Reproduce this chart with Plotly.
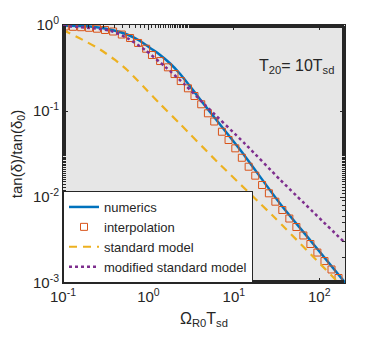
import plotly.graph_objects as go

# numerics (blue solid)
omega_num = [0.1, 0.207, 0.356, 0.563, 0.8, 1.047, 1.371, 1.796, 2.353, 3.083, 4.037, 6.06, 11.9,
             35.0, 78.7, 202]
tan_num = [0.987, 0.961, 0.886, 0.775, 0.652, 0.540, 0.448, 0.3567, 0.2693, 0.1927, 0.136, 0.0818,
           0.0352, 0.0083, 0.00312, 0.001]

# interpolation (squares)
omega_int = [0.105, 0.131, 0.163, 0.202, 0.25, 0.31, 0.386, 0.488, 0.61, 0.757, 0.94, 1.1, 1.37,
             1.69, 2.02, 2.39, 2.9, 3.46, 4.15, 4.97, 5.89, 7.25, 8.67, 10.4, 12.4, 14.9, 17.8,
             21.4, 25.7, 30.6, 36.9, 44.6, 53.9, 65.1, 78.7, 95, 115, 139, 168]
tan_int = [0.961, 0.953, 0.943, 0.928, 0.906, 0.875, 0.840, 0.775, 0.706, 0.618, 0.530, 0.448, 0.381,
           0.322, 0.269, 0.223, 0.1836, 0.1494, 0.1197, 0.094, 0.0755, 0.0574, 0.046, 0.0368, 0.0286,
           0.0225, 0.0177, 0.01379, 0.01104, 0.00882, 0.00706, 0.00562, 0.00448, 0.00357, 0.00284,
           0.00226, 0.0018, 0.001436, 0.001143]

# standard model (dashed)
omega_std = [0.1, 0.1715, 0.272, 0.407, 0.563, 0.737, 0.966, 1.371, 2.35, 6.38, 30.6, 163, 200]
tan_std = [0.875, 0.669, 0.519, 0.392, 0.2997, 0.2293, 0.1731, 0.1206, 0.0706, 0.0257, 0.00565,
           0.00104, 0.00084]

# modified standard model (dotted)
omega_mod = [0.1, 0.207, 0.356, 0.563, 0.915, 1.57, 2.69, 4.62, 13.6, 35.0, 202]
tan_mod = [0.974, 0.923, 0.858, 0.706, 0.512, 0.327, 0.201, 0.117, 0.0413, 0.0158, 0.0029]

x_ticks = [0.1, 1, 10, 100]
x_text = ["10<sup>-1</sup>", "10<sup>0</sup>", "10<sup>1</sup>", "10<sup>2</sup>"]
y_ticks = [0.001, 0.01, 0.1, 1]
y_text = ["10<sup>-3</sup>", "10<sup>-2</sup>", "10<sup>-1</sup>", "10<sup>0</sup>"]

fig = go.Figure()
fig.add_trace(go.Scatter(x=omega_num, y=tan_num, mode="lines", name="numerics",
                         line=dict(color="#0072BD", width=2.5, shape="spline", smoothing=0.6)))
fig.add_trace(go.Scatter(x=omega_int, y=tan_int, mode="markers", name="interpolation",
                         marker=dict(symbol="square-open", size=7, color="#D95319",
                                     line=dict(width=1))))
fig.add_trace(go.Scatter(x=omega_std, y=tan_std, mode="lines", name="standard model",
                         line=dict(color="#EDB120", width=2.2, dash="8px,6px",
                                   shape="spline", smoothing=0.6)))
fig.add_trace(go.Scatter(x=omega_mod, y=tan_mod, mode="lines", name="modified standard model",
                         line=dict(color="#7E2F8E", width=2.5, dash="dot",
                                   shape="spline", smoothing=0.6)))

axis_common = dict(
    type="log", showgrid=False, zeroline=False, showline=True, mirror="ticks",
    linecolor="#262626", linewidth=1, ticks="inside", ticklen=5, tickcolor="#262626",
    minor=dict(ticks="inside", ticklen=3, tickcolor="#262626", showgrid=False),
    tickfont=dict(size=15, color="#262626"), automargin=False,
)
fig.update_xaxes(range=[-1, 2.301], tickvals=x_ticks, ticktext=x_text,
                 title=dict(text="Ω<sub>R0</sub>T<sub>sd</sub>", font=dict(size=16, color="#262626"),
                            standoff=8),
                 **axis_common)
fig.update_yaxes(range=[-3, 0], tickvals=y_ticks, ticktext=y_text,
                 title=dict(text="tan(δ)/tan(δ<sub>0</sub>)", font=dict(size=15, color="#262626"),
                            standoff=6),
                 **axis_common)

fig.add_annotation(x=0.968, y=0.84, xref="paper", yref="paper", xanchor="right", yanchor="middle",
                   text="T<sub>20</sub>= 10T<sub>sd</sub>", showarrow=False,
                   font=dict(size=16, color="#262626"))

# page body adds an 8px margin, so the figure is sized to fit inside it
fig.update_layout(
    width=374, height=331,
    margin=dict(l=55, r=37, t=17, b=56),
    paper_bgcolor="white", plot_bgcolor="#e6e6e6",
    font=dict(family="Liberation Sans, Arial, sans-serif", color="#262626"),
    legend=dict(x=0, y=0, xanchor="left", yanchor="bottom", bgcolor="white",
                bordercolor="#262626", borderwidth=1, font=dict(size=13),
                tracegroupgap=0, itemwidth=30),
)

fig.write_html("out.html")
